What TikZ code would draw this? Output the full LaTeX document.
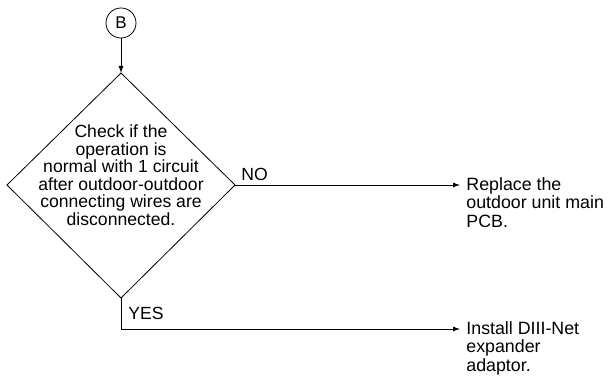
\documentclass[tikz,border=0pt]{standalone}
\usepackage{fontspec}
\setmainfont{Liberation Sans}
\usetikzlibrary{arrows.meta}
\begin{document}
\begin{tikzpicture}[x=1pt,y=1pt,
  line width=0.8pt,
  arr/.style={-{Latex[length=7pt,width=5pt]}},
  txt/.style={font=\fontsize{17.8}{18.4}\selectfont, inner sep=0pt, align=left},
  ctxt/.style={font=\fontsize{17.6}{17.5}\selectfont, inner sep=0pt, align=center},
  lbl/.style={font=\fontsize{17.6}{17.6}\selectfont, inner sep=0pt}]
\useasboundingbox (0,0) rectangle (612,377);
% connector B
\node[draw, circle, minimum size=30pt, inner sep=0pt, font=\fontsize{17}{17}\selectfont] (B) at (121,354) {B};
% diamond
\coordinate (dt) at (121,304);
\coordinate (dl) at (7,192);
\coordinate (dr) at (235,192);
\coordinate (db) at (121,79);
\draw (dt) -- (dr) -- (db) -- (dl) -- cycle;
\node[ctxt] (chk) at (121,202) {Check if the\\operation is\\normal with 1 circuit\\after outdoor-outdoor\\connecting wires are\\disconnected.};
\draw[arr] (B) -- (dt);
% NO branch
\coordinate (noend) at (460,192);
\draw[arr] (dr) -- (noend);
\node[lbl, anchor=south west] (no) at (241,196) {NO};
\node[txt, anchor=north west] (rep) at (466,200) {Replace the\\outdoor unit main\\PCB.};
% YES branch
\coordinate (ycorner) at (121,48);
\coordinate (yesend) at (460,48);
\draw[arr] (db) -- (ycorner) -- (yesend);
\node[lbl, anchor=south west] (yes) at (128,57) {YES};
\node[txt, anchor=north west] (inst) at (466,56) {Install DIII-Net\\expander\\adaptor.};
\end{tikzpicture}
\end{document}
